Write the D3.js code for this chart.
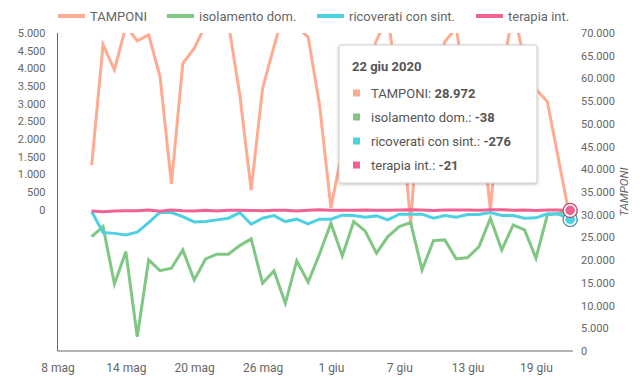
<!DOCTYPE html>
<html><head><meta charset="utf-8">
<script src="https://cdn.jsdelivr.net/npm/d3@7"></script>
<style>
html,body{margin:0;padding:0;background:#fff;}
svg{display:block;font-family:Roboto,"Noto Sans",sans-serif;}
</style></head>
<body><svg id="c" width="644" height="380"></svg>
<script>
const dates = ["2020-05-11","2020-05-12","2020-05-13","2020-05-14","2020-05-15","2020-05-16","2020-05-17","2020-05-18","2020-05-19","2020-05-20","2020-05-21","2020-05-22","2020-05-23","2020-05-24","2020-05-25","2020-05-26","2020-05-27","2020-05-28","2020-05-29","2020-05-30","2020-05-31","2020-06-01","2020-06-02","2020-06-03","2020-06-04","2020-06-05","2020-06-06","2020-06-07","2020-06-08","2020-06-09","2020-06-10","2020-06-11","2020-06-12","2020-06-13","2020-06-14","2020-06-15","2020-06-16","2020-06-17","2020-06-18","2020-06-19","2020-06-20","2020-06-21","2020-06-22"];
const tamponi = [40900,67400,61900,71500,68300,69600,60400,36800,63300,66600,71800,75000,72200,56400,35400,57800,67000,76000,71400,69100,54200,31500,44200,57500,61900,68400,73400,55900,28200,62700,60000,68100,71100,55500,55000,31000,60700,75000,64000,57600,54900,41900,28972];
const isolamento = [-762,-479,-2102,-1187,-3595,-1422,-1725,-1657,-1139,-1989,-1394,-1261,-1261,-1017,-827,-2082,-1734,-2649,-1450,-2054,-1252,-382,-1309,-337,-601,-1232,-762,-479,-365,-1705,-875,-856,-1394,-1357,-1045,-241,-1139,-431,-572,-1374,-147,-99,-38];
const ricoverati = [-54,-649,-671,-714,-637,-365,-71,-82,-195,-346,-337,-289,-241,-82,-411,-241,-167,-337,-269,-402,-269,-269,-156,-167,-212,-176,-289,-127,-127,-127,-241,-167,-212,-139,-139,-82,-167,-167,-241,-232,-119,-127,-276];
const terapia = [-41,-56,-39,-31,-33,-13,-43,-13,-33,-36,-20,-36,-19,-19,-23,-32,-17,-16,-36,-15,-3,-16,-16,-16,-12,-19,-14,-6,-4,-11,-24,-7,-9,-11,-14,-4,-5,-13,-7,-21,-9,-11,-21];
const seriesNames = ["TAMPONI","isolamento dom.","ricoverati con sint.","terapia int."];
const seriesColors = ["#ffab91","#81c784","#4dd0e1","#f06292"];
const xTickDates = ["2020-05-08","2020-05-14","2020-05-20","2020-05-26","2020-06-01","2020-06-07","2020-06-13","2020-06-19"];
const xTickLabels = ["8 mag","14 mag","20 mag","26 mag","1 giu","7 giu","13 giu","19 giu"];
const leftTicks = [0,500,1000,1500,2000,2500,3000,3500,4000,4500,5000];
const rightTicks = [0,5000,10000,15000,20000,25000,30000,35000,40000,45000,50000,55000,60000,65000,70000];
const tooltipTitle = "22 giu 2020";

(function(){
const loc = d3.formatLocale({decimal:",",thousands:".",grouping:[3],currency:["€",""],minus:"-"});
const fmt = loc.format(",d");
const parse = d3.timeParse("%Y-%m-%d");
const svg = d3.select("#c");

const pTop = 33, pBottom = 351, pLeft = 57.5, pRight = 573;
const x = d3.scaleTime().domain([parse("2020-05-08"), new Date(2020,5,22,6)]).range([pLeft, pRight]);
const yL = d3.scaleLinear().domain([-4000,5000]).range([pBottom, pTop]);
const yR = d3.scaleLinear().domain([0,70000]).range([pBottom, pTop]);

const defs = svg.append("defs");
defs.append("clipPath").attr("id","clip")
  .append("rect").attr("x",pLeft).attr("y",pTop).attr("width",pRight-pLeft+10).attr("height",pBottom-pTop);
const sh = defs.append("filter").attr("id","sh").attr("x","-10%").attr("y","-10%").attr("width","130%").attr("height","130%");
sh.append("feDropShadow").attr("dx",0).attr("dy",1).attr("stdDeviation",1.5).attr("flood-color","#000").attr("flood-opacity",0.25);

// axes
const yLeftAxis = d3.axisLeft(yL).tickValues(leftTicks).tickFormat(fmt).tickSize(0).tickPadding(12);
const gl = svg.append("g").attr("transform",`translate(${pLeft},0)`).call(yLeftAxis);
gl.select(".domain").remove();
gl.selectAll("text").attr("fill","#666").style("font-size","11px").style("font-family","Roboto");
svg.append("line").attr("x1",pLeft).attr("x2",pLeft).attr("y1",pTop).attr("y2",pBottom).attr("stroke","#666").attr("stroke-width",1);

const yRightAxis = d3.axisRight(yR).tickValues(rightTicks).tickFormat(fmt).tickSize(0).tickPadding(8);
const gr = svg.append("g").attr("transform",`translate(${pRight},0)`).call(yRightAxis);
gr.select(".domain").remove();
gr.selectAll("text").attr("fill","#666").style("font-size","11px").style("font-family","Roboto");

const xAxis = d3.axisBottom(x).tickValues(xTickDates.map(parse)).tickFormat((d,i)=>xTickLabels[i]).tickSize(0).tickPadding(12);
const gx = svg.append("g").attr("transform",`translate(0,${pBottom})`).call(xAxis);
gx.select(".domain").remove();
gx.selectAll("text").attr("fill","#666").style("font-size","12px").style("font-family","Roboto");
svg.append("line").attr("x1",pLeft).attr("x2",pRight).attr("y1",pBottom).attr("y2",pBottom).attr("stroke","#666").attr("stroke-width",1);

svg.append("text").attr("transform","translate(628,192) rotate(-90)").attr("text-anchor","middle")
  .attr("fill","#666").style("font-size","11.5px").style("font-style","italic").text("TAMPONI");

// lines
const series = [
  {vals:tamponi, y:yR},
  {vals:isolamento, y:yL},
  {vals:ricoverati, y:yL},
  {vals:terapia, y:yL}
];
const pd = dates.map(parse);
const gLines = svg.append("g").attr("clip-path","url(#clip)");
series.forEach((s,i)=>{
  const line = d3.line().x((d,j)=>x(pd[j])).y(d=>s.y(d));
  gLines.append("path").datum(s.vals).attr("d",line).attr("fill","none")
    .attr("stroke",seriesColors[i]).attr("stroke-width",3);
});

// hover markers at last point
const li = dates.length-1;
series.forEach((s,i)=>{
  const cx = x(pd[li]), cy = s.y(s.vals[li]);
  svg.append("circle").attr("cx",cx).attr("cy",cy).attr("r",7).attr("fill","#fff")
    .attr("stroke",d3.color(seriesColors[i]).darker(0.8)).attr("stroke-width",1.2);
  svg.append("circle").attr("cx",cx).attr("cy",cy).attr("r",4.8).attr("fill",seriesColors[i]);
});

// legend
const legX = [58,167,317,476];
seriesNames.forEach((n,i)=>{
  const g = svg.append("g").attr("transform",`translate(${legX[i]},16)`);
  g.append("rect").attr("x",0).attr("y",-2).attr("width",27).attr("height",4).attr("fill",seriesColors[i]);
  g.append("text").attr("x",32).attr("y",0).attr("dy","0.35em").attr("fill","#666").style("font-size","13px").text(n);
});

// tooltip
const tt = svg.append("g").attr("transform","translate(339,45)");
tt.append("rect").attr("width",198).attr("height",138).attr("rx",2).attr("fill","#fff")
  .attr("stroke","#ccc").attr("stroke-width",1).attr("filter","url(#sh)");
tt.append("text").attr("x",13).attr("y",21).attr("dy","0.35em").attr("fill","#555")
  .style("font-size","13px").style("font-weight","bold").text(tooltipTitle);
series.forEach((s,i)=>{
  const yy = 48 + i*24;
  tt.append("rect").attr("x",14).attr("y",yy-3.5).attr("width",7).attr("height",7).attr("fill",seriesColors[i]);
  const t = tt.append("text").attr("x",32).attr("y",yy).attr("dy","0.35em").attr("fill","#555").style("font-size","13px");
  t.append("tspan").text(seriesNames[i]+": ");
  t.append("tspan").style("font-weight","bold").text(fmt(s.vals[li]));
});
})();
</script></body></html>
